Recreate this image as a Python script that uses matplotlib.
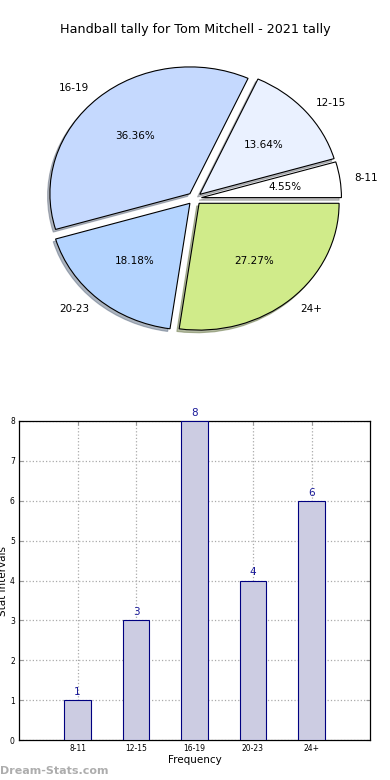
import numpy as np
import matplotlib
matplotlib.use("Agg")
import matplotlib.pyplot as plt

# data
intervals = ["8-11", "12-15", "16-19", "20-23", "24+"]
counts = [1, 3, 8, 4, 6]
pie_colors = ["#ffffff", "#eaf1ff", "#c5d9fe", "#b4d4ff", "#d0eb8a"]
explode = [0.05, 0.05, 0.05, 0.05, 0.05]

fig = plt.figure(figsize=(3.9, 7.8), dpi=100)

# pie chart (top)
ax1 = fig.add_axes([19.5 / 390, 1 - 357 / 780, 350 / 390, 317 / 780])
wedges, texts, autotexts = ax1.pie(counts, labels=intervals, colors=pie_colors,
                                   explode=explode, autopct="%1.2f%%",
                                   startangle=0,
                                   shadow=dict(ox=-0.012, oy=-0.015, shade=0.5),
                                   wedgeprops=dict(edgecolor="black", linewidth=0.8),
                                   textprops=dict(fontsize=7.5))
ax1.set_aspect("auto")
ax1.set_xlim(-1.25, 1.25)
ax1.set_ylim(-1.25, 1.25)
fig.text(0.5, 1 - 30 / 780, "Handball tally for Tom Mitchell - 2021 tally",
         ha="center", va="center", fontsize=9.2)

# bar chart (bottom)
ax2 = fig.add_axes([19 / 390, 1 - 740 / 780, 351 / 390, 319 / 780])
x = np.arange(1, len(intervals) + 1)
bars = ax2.bar(x, counts, width=0.45, color="#ccccE2", edgecolor="#000080", linewidth=0.8,
               zorder=3)
for xi, c in zip(x, counts):
    ax2.text(xi, c + 0.08, str(c), ha="center", va="bottom", color="#1a1a9a", fontsize=7.5)
ax2.set_xlim(0, 6)
ax2.set_ylim(0, 8)
ax2.set_xticks(x)
ax2.set_xticklabels(intervals)
ax2.set_yticks(range(0, 9))
ax2.tick_params(axis="both", direction="in", labelsize=5.5, top=True, right=True,
                length=3, color="#999999", pad=3)
ax2.grid(True, linestyle=":", color="#aaaaaa", linewidth=0.9, zorder=0)
ax2.set_xlabel("Frequency", fontsize=7.5, labelpad=1)
ax2.set_ylabel("Stat Intervals", fontsize=7.5)
ax2.yaxis.set_label_coords(-0.03, 0.5)
for s in ax2.spines.values():
    s.set_linewidth(0.9)

fig.text(0.0, 1 - 771 / 780, "Dream-Stats.com", ha="left", va="center",
         fontsize=8, color="#999999", fontweight="bold", alpha=0.8)

fig.savefig("out.png", dpi=100)
